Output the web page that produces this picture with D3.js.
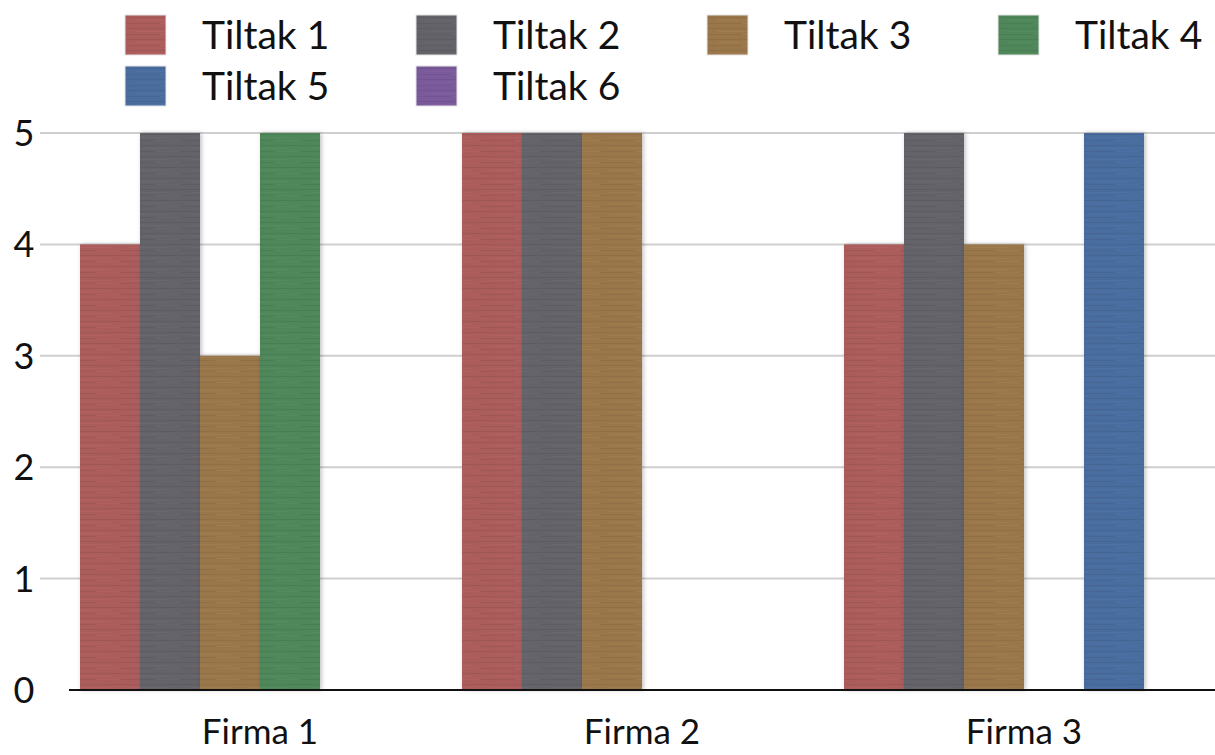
<!DOCTYPE html>
<html>
<head>
<meta charset="utf-8">
<script src="https://cdn.jsdelivr.net/npm/d3@7"></script>
<style>
  body { margin: 0; background: #fff; }
  text { font-family: "Lato", "DejaVu Sans", sans-serif; fill: #111; }
</style>
</head>
<body>
<div id="chart"></div>
<script>
const width = 1215,
height = 755;

const firms = ["Firma 1", "Firma 2", "Firma 3"]
const tiltak = ["Tiltak 1", "Tiltak 2", "Tiltak 3", "Tiltak 4", "Tiltak 5", "Tiltak 6"]
const tiltak1 = [4, 5, 4]
const tiltak2 = [5, 5, 5]
const tiltak3 = [3, 5, 4]
const tiltak4 = [5, 0, 0]
const tiltak5 = [0, 0, 5]
const tiltak6 = [0, 0, 0]
const yTicks = [0, 1, 2, 3, 4, 5]
const colors = ["#ab5d5c", "#636369", "#9a774b", "#4f875a", "#4a6d9e", "#7a5a9a"]

const series = [tiltak1, tiltak2, tiltak3, tiltak4, tiltak5, tiltak6]
const rows = []
firms.forEach((f, i) => {
  tiltak.forEach((t, j) => rows.push({firm: f, key: t, value: series[j][i], idx: j}))
})

const svg = d3.select("#chart")
            .append("svg")
            .attr("width", width)
            .attr("height", height)

const defs = svg.append("defs")

// soft shadow for bars
const shadow = defs.append("filter").attr("id", "shadow")
  .attr("x", "-10%").attr("y", "-5%").attr("width", "125%").attr("height", "110%")
shadow.append("feDropShadow")
  .attr("dx", 1.5).attr("dy", 0).attr("stdDeviation", 2)
  .attr("flood-color", "#000").attr("flood-opacity", 0.25)

// brushed texture pattern for each colour
colors.forEach((c, i) => {
  const p = defs.append("pattern")
    .attr("id", "tex" + i)
    .attr("patternUnits", "userSpaceOnUse")
    .attr("width", 60).attr("height", 11)
  p.append("rect").attr("width", 60).attr("height", 11).attr("fill", c)
  const dark = d3.color(c).darker(0.35)
  const light = d3.color(c).brighter(0.25)
  p.append("rect").attr("y", 2).attr("width", 60).attr("height", 1).attr("fill", dark).attr("opacity", 0.6)
  p.append("rect").attr("y", 5).attr("x", 10).attr("width", 40).attr("height", 1).attr("fill", light).attr("opacity", 0.5)
  p.append("rect").attr("y", 8).attr("width", 35).attr("height", 1).attr("fill", dark).attr("opacity", 0.5)
  p.append("rect").attr("y", 8).attr("x", 35).attr("width", 25).attr("height", 1).attr("fill", light).attr("opacity", 0.4)
})

const x0 = d3.scaleBand()
            .domain(firms)
            .range([69, 1215])
            .padding(0)

const x1 = d3.scaleBand()
            .domain(tiltak)
            .range([11, x0.bandwidth() - 11])

const y = d3.scaleLinear()
            .domain([0, 5])
            .range([690, 133])

// gridlines
svg.selectAll("grid")
  .data(yTicks.filter(d => d > 0))
  .join("line")
  .attr("x1", 40)
  .attr("x2", width)
  .attr("y1", d => y(d))
  .attr("y2", d => y(d))
  .attr("stroke", "#cfcfcf")
  .attr("stroke-width", 2)

// y tick labels
svg.selectAll("ylab")
  .data(yTicks)
  .join("text")
  .attr("x", 24)
  .attr("y", d => y(d))
  .attr("dy", "0.36em")
  .attr("text-anchor", "middle")
  .style("font-size", "36px")
  .text(d => d)

// bars
svg.selectAll("bars")
  .data(rows.filter(d => d.value > 0))
  .join("rect")
  .attr("x", d => x0(d.firm) + x1(d.key))
  .attr("y", d => y(d.value))
  .attr("width", x1.bandwidth())
  .attr("height", d => y(0) - y(d.value))
  .attr("fill", d => `url(#tex${d.idx})`)
  .attr("filter", "url(#shadow)")

// baseline
svg.append("line")
  .attr("x1", 69).attr("x2", width)
  .attr("y1", y(0)).attr("y2", y(0))
  .attr("stroke", "#111").attr("stroke-width", 2)

// x labels
svg.selectAll("xlab")
  .data(firms)
  .join("text")
  .attr("x", d => x0(d) + x0.bandwidth() / 2)
  .attr("y", 744)
  .attr("text-anchor", "middle")
  .style("font-size", "35px")
  .text(d => d)

// legend
const legend = svg.selectAll("legend")
  .data(tiltak)
  .join("g")
  .attr("transform", (d, i) => `translate(${125 + (i % 4) * 291},${15 + Math.floor(i / 4) * 51})`)

legend.append("rect")
  .attr("width", 41)
  .attr("height", 40)
  .attr("fill", (d, i) => `url(#tex${i})`)
  .attr("stroke", "#e6e6e6")

legend.append("text")
  .attr("x", 77)
  .attr("y", 20)
  .attr("dy", "0.36em")
  .style("font-size", "39px")
  .text(d => d)
</script>
</body>
</html>
